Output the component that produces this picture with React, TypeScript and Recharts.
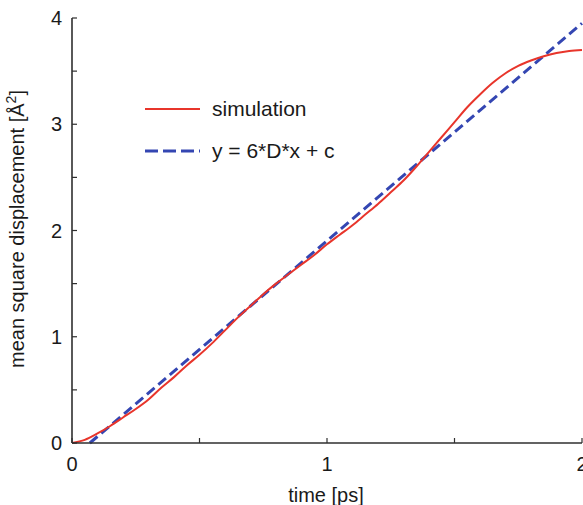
import { Legend, Line, LineChart, XAxis, YAxis } from "recharts";

// simulated MSD curve
const simTime = [
  0, 0.05, 0.1, 0.15, 0.2, 0.25, 0.3, 0.35, 0.4, 0.45, 0.5, 0.55, 0.6, 0.65, 0.7,
  0.75, 0.8, 0.85, 0.9, 0.95, 1.0, 1.05, 1.1, 1.15, 1.2, 1.25, 1.3, 1.35, 1.4, 1.45,
  1.5, 1.55, 1.6, 1.65, 1.7, 1.75, 1.8, 1.85, 1.9, 1.95, 2.0,
];
const simMsd = [
  0, 0.03, 0.09, 0.16, 0.24, 0.32, 0.41, 0.52, 0.62, 0.73, 0.83, 0.94, 1.06, 1.18, 1.29,
  1.4, 1.5, 1.59, 1.68, 1.77, 1.87, 1.96, 2.05, 2.15, 2.25, 2.36, 2.47, 2.6, 2.74, 2.88,
  3.02, 3.16, 3.28, 3.39, 3.48, 3.55, 3.6, 3.64, 3.67, 3.69, 3.7,
];

// linear fit y = 6*D*x + c
const fitTime = [0.07, 2.0];
const fitMsd = [0, 3.95];

const xTicks = [0, 0.5, 1, 1.5, 2];
const yTicks = [0, 0.5, 1, 1.5, 2, 2.5, 3, 3.5, 4];

const seriesNames = ["simulation", "y = 6*D*x + c"];

const RED = "#e8352b";
const BLUE = "#3446b2";
const FRAME = "#2f2f2f";
const FONT = '"Liberation Sans", Arial, Helvetica, sans-serif';

const simData = simTime.map((x, i) => ({ x, y: simMsd[i] }));
const fitData = fitTime.map((x, i) => ({ x, y: fitMsd[i] }));

const BottomTick = ({ x, y, payload }: any) => (
  <g>
    <line x1={x} y1={y} x2={x} y2={y - 5} stroke={FRAME} strokeWidth={1.2} />
    {Number.isInteger(payload.value) && (
      <text x={x} y={y + 28} textAnchor="middle" fontSize={20} fill="#1a1a1a" fontFamily={FONT}>
        {payload.value}
      </text>
    )}
  </g>
);

const TopTick = ({ x, y }: any) => (
  <line x1={x} y1={y} x2={x} y2={y + 5} stroke={FRAME} strokeWidth={1.2} />
);

const LeftTick = ({ x, y, payload }: any) => (
  <g>
    <line x1={x} y1={y} x2={x + 5} y2={y} stroke={FRAME} strokeWidth={1.2} />
    {Number.isInteger(payload.value) && (
      <text x={x - 10} y={y + 7} textAnchor="end" fontSize={20} fill="#1a1a1a" fontFamily={FONT}>
        {payload.value}
      </text>
    )}
  </g>
);

const RightTick = ({ x, y }: any) => (
  <line x1={x} y1={y} x2={x - 5} y2={y} stroke={FRAME} strokeWidth={1.2} />
);

const MsdLegend = () => (
  <svg width={220} height={80} style={{ display: "block" }}>
    <line x1={0} y1={17} x2={55} y2={17} stroke={RED} strokeWidth={2} />
    <text x={67} y={24} fontSize={21} fill="#1a1a1a" fontFamily={FONT}>
      {seriesNames[0]}
    </text>
    <line x1={0} y1={59} x2={55} y2={59} stroke={BLUE} strokeWidth={3} strokeDasharray="13 5" />
    <text x={67} y={66} fontSize={21} fill="#1a1a1a" fontFamily={FONT}>
      {seriesNames[1]}
    </text>
  </svg>
);

export default function App() {
  return (
    <div style={{ position: "absolute", left: 0, top: 0, width: 583, height: 505, background: "#fff" }}>
      <LineChart width={583} height={505} margin={{ top: 18, right: 1, bottom: 0, left: 0 }}>
        <XAxis
          xAxisId="bottom"
          type="number"
          dataKey="x"
          domain={[0, 2]}
          ticks={xTicks}
          interval={0}
          height={62}
          tickSize={0}
          tickMargin={0}
          tickLine={false}
          tick={<BottomTick />}
          axisLine={{ stroke: FRAME, strokeWidth: 1.6 }}
          label={{
            content: () => (
              <text x={326} y={502} textAnchor="middle" fontSize={20} fill="#1a1a1a" fontFamily={FONT}>
                time [ps]
              </text>
            ),
          }}
        />
        <XAxis
          xAxisId="top"
          orientation="top"
          type="number"
          dataKey="x"
          domain={[0, 2]}
          ticks={xTicks}
          interval={0}
          height={0}
          tickSize={0}
          tickMargin={0}
          tickLine={false}
          tick={<TopTick />}
          axisLine={{ stroke: FRAME, strokeWidth: 1.6 }}
        />
        <YAxis
          yAxisId="left"
          type="number"
          domain={[0, 4]}
          ticks={yTicks}
          interval={0}
          width={72}
          tickSize={0}
          tickMargin={0}
          tickLine={false}
          tick={<LeftTick />}
          axisLine={{ stroke: FRAME, strokeWidth: 1.6 }}
          label={{
            content: () => (
              <text
                x={24}
                y={229}
                transform="rotate(-90 24 229)"
                textAnchor="middle"
                fontSize={20}
                fill="#1a1a1a"
                fontFamily={FONT}
              >
                mean square displacement [Å
                <tspan dy={-8} fontSize={14}>2</tspan>
                <tspan dy={8}>]</tspan>
              </text>
            ),
          }}
        />
        <YAxis
          yAxisId="right"
          orientation="right"
          type="number"
          domain={[0, 4]}
          ticks={yTicks}
          interval={0}
          width={0}
          tickSize={0}
          tickMargin={0}
          tickLine={false}
          tick={<RightTick />}
          axisLine={{ stroke: FRAME, strokeWidth: 1.6 }}
        />
        <Legend
          layout="vertical"
          align="center"
          verticalAlign="middle"
          wrapperStyle={{ left: 145, top: 92, width: 220, height: 80 }}
          content={() => <MsdLegend />}
        />
        <Line
          data={fitData}
          xAxisId="bottom"
          yAxisId="left"
          dataKey="y"
          name={seriesNames[1]}
          type="linear"
          stroke={BLUE}
          strokeWidth={3}
          strokeDasharray="10 5"
          dot={false}
          activeDot={false}
          isAnimationActive={false}
        />
        <Line
          data={simData}
          xAxisId="bottom"
          yAxisId="left"
          dataKey="y"
          name={seriesNames[0]}
          type="monotone"
          stroke={RED}
          strokeWidth={2}
          dot={false}
          activeDot={false}
          isAnimationActive={false}
        />
      </LineChart>
    </div>
  );
}
